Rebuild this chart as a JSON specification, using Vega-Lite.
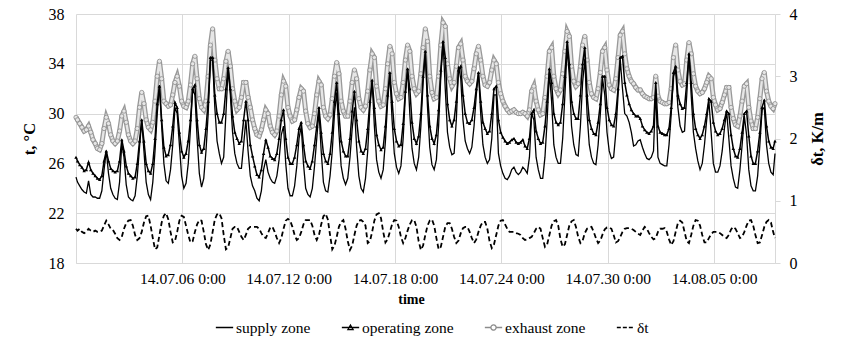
{
"$schema":"https://vega.github.io/schema/vega-lite/v6.json",
"width":699,"height":249,
"autosize":{"type":"none"},
"padding":{"left":76,"top":14,"right":72,"bottom":82},
"config":{"font":"'Times New Roman', 'Liberation Serif', serif","view":{"stroke":null},"axis":{"labelFont":"'Times New Roman', 'Liberation Serif', serif","titleFont":"'Times New Roman', 'Liberation Serif', serif","labelColor":"#000","titleColor":"#000","gridColor":"#d9d9d9","domainColor":"#d9d9d9"},"legend":{"labelFont":"'Times New Roman', 'Liberation Serif', serif","labelColor":"#000"}},
"data":{"values":[
{"t":"2014-06-30T00:00","s":24.9,"o":26.5,"e":29.7,"d":0.55},
{"t":"2014-06-30T02:00","s":24.5,"o":26.2,"e":29.5,"d":0.52},
{"t":"2014-06-30T05:00","s":24.2,"o":25.9,"e":29.2,"d":0.55},
{"t":"2014-06-30T08:00","s":23.9,"o":25.7,"e":28.9,"d":0.5},
{"t":"2014-06-30T11:00","s":23.7,"o":25.4,"e":28.6,"d":0.48},
{"t":"2014-06-30T14:00","s":23.6,"o":25.5,"e":28.7,"d":0.5},
{"t":"2014-06-30T17:00","s":24.6,"o":26.1,"e":29.0,"d":0.55},
{"t":"2014-06-30T20:00","s":23.5,"o":25.5,"e":28.5,"d":0.52},
{"t":"2014-06-30T23:00","s":23.3,"o":25.2,"e":27.9,"d":0.5},
{"t":"2014-07-01T02:00","s":23.3,"o":25.0,"e":27.6,"d":0.52},
{"t":"2014-07-01T05:00","s":23.2,"o":24.8,"e":27.2,"d":0.5},
{"t":"2014-07-01T08:00","s":23.2,"o":24.7,"e":27.1,"d":0.5},
{"t":"2014-07-01T11:00","s":23.8,"o":25.0,"e":27.6,"d":0.52},
{"t":"2014-07-01T14:00","s":25.5,"o":26.2,"e":28.8,"d":0.6},
{"t":"2014-07-01T17:00","s":27.0,"o":27.0,"e":29.7,"d":0.68},
{"t":"2014-07-01T20:00","s":25.2,"o":26.2,"e":29.2,"d":0.62},
{"t":"2014-07-01T23:00","s":24.0,"o":25.6,"e":28.3,"d":0.55},
{"t":"2014-07-02T02:00","s":23.5,"o":25.4,"e":27.8,"d":0.53},
{"t":"2014-07-02T05:00","s":23.2,"o":25.3,"e":27.6,"d":0.47},
{"t":"2014-07-02T08:00","s":23.1,"o":25.4,"e":27.8,"d":0.4},
{"t":"2014-07-02T11:00","s":24.5,"o":26.2,"e":28.6,"d":0.37},
{"t":"2014-07-02T14:00","s":27.6,"o":27.9,"e":29.8,"d":0.42},
{"t":"2014-07-02T17:00","s":26.5,"o":27.0,"e":30.2,"d":0.55},
{"t":"2014-07-02T20:00","s":24.3,"o":25.8,"e":29.3,"d":0.64},
{"t":"2014-07-02T23:00","s":23.3,"o":25.2,"e":28.3,"d":0.68},
{"t":"2014-07-03T02:00","s":23.1,"o":25.0,"e":27.8,"d":0.69},
{"t":"2014-07-03T05:00","s":23.0,"o":24.8,"e":27.6,"d":0.6},
{"t":"2014-07-03T08:00","s":23.4,"o":24.9,"e":27.8,"d":0.45},
{"t":"2014-07-03T11:00","s":25.0,"o":26.0,"e":28.8,"d":0.37},
{"t":"2014-07-03T14:00","s":27.3,"o":27.8,"e":30.5,"d":0.4},
{"t":"2014-07-03T17:00","s":29.4,"o":29.5,"e":31.7,"d":0.5},
{"t":"2014-07-03T20:00","s":27.0,"o":27.8,"e":30.8,"d":0.65},
{"t":"2014-07-03T23:00","s":24.5,"o":26.0,"e":29.5,"d":0.75},
{"t":"2014-07-04T02:00","s":23.5,"o":25.4,"e":28.9,"d":0.76},
{"t":"2014-07-04T05:00","s":23.1,"o":25.2,"e":28.7,"d":0.6},
{"t":"2014-07-04T08:00","s":24.5,"o":26.0,"e":29.3,"d":0.4},
{"t":"2014-07-04T11:00","s":27.0,"o":28.0,"e":31.0,"d":0.22},
{"t":"2014-07-04T14:00","s":30.0,"o":30.8,"e":33.0,"d":0.25},
{"t":"2014-07-04T17:00","s":32.3,"o":32.2,"e":34.2,"d":0.45},
{"t":"2014-07-04T20:00","s":29.0,"o":29.5,"e":32.8,"d":0.65},
{"t":"2014-07-04T23:00","s":26.0,"o":27.3,"e":31.0,"d":0.76},
{"t":"2014-07-05T02:00","s":24.6,"o":26.6,"e":30.8,"d":0.8},
{"t":"2014-07-05T05:00","s":24.4,"o":26.7,"e":30.6,"d":0.7},
{"t":"2014-07-05T08:00","s":25.5,"o":27.5,"e":30.7,"d":0.5},
{"t":"2014-07-05T11:00","s":27.5,"o":29.0,"e":31.5,"d":0.33},
{"t":"2014-07-05T14:00","s":30.5,"o":30.9,"e":32.5,"d":0.35},
{"t":"2014-07-05T17:00","s":30.0,"o":30.5,"e":33.0,"d":0.5},
{"t":"2014-07-05T20:00","s":27.5,"o":28.5,"e":32.2,"d":0.68},
{"t":"2014-07-05T23:00","s":25.0,"o":27.0,"e":31.0,"d":0.76},
{"t":"2014-07-06T02:00","s":24.0,"o":26.5,"e":30.6,"d":0.74},
{"t":"2014-07-06T05:00","s":24.4,"o":26.8,"e":30.5,"d":0.6},
{"t":"2014-07-06T08:00","s":26.0,"o":27.8,"e":31.0,"d":0.45},
{"t":"2014-07-06T11:00","s":28.8,"o":29.5,"e":32.3,"d":0.33},
{"t":"2014-07-06T14:00","s":32.0,"o":32.0,"e":34.0,"d":0.35},
{"t":"2014-07-06T17:00","s":31.5,"o":32.3,"e":34.6,"d":0.5},
{"t":"2014-07-06T20:00","s":28.0,"o":29.5,"e":32.8,"d":0.62},
{"t":"2014-07-06T23:00","s":25.2,"o":27.5,"e":31.2,"d":0.69},
{"t":"2014-07-07T02:00","s":24.1,"o":26.9,"e":30.5,"d":0.68},
{"t":"2014-07-07T05:00","s":24.8,"o":27.2,"e":30.3,"d":0.5},
{"t":"2014-07-07T08:00","s":27.0,"o":28.8,"e":31.0,"d":0.3},
{"t":"2014-07-07T11:00","s":30.0,"o":31.0,"e":33.0,"d":0.21},
{"t":"2014-07-07T14:00","s":34.3,"o":34.5,"e":35.5,"d":0.3},
{"t":"2014-07-07T17:00","s":34.3,"o":34.5,"e":36.8,"d":0.5},
{"t":"2014-07-07T20:00","s":30.5,"o":31.5,"e":34.3,"d":0.7},
{"t":"2014-07-07T23:00","s":27.8,"o":30.0,"e":32.8,"d":0.78},
{"t":"2014-07-08T02:00","s":26.8,"o":29.3,"e":32.0,"d":0.8},
{"t":"2014-07-08T05:00","s":26.0,"o":29.3,"e":32.0,"d":0.72},
{"t":"2014-07-08T08:00","s":26.5,"o":30.0,"e":32.8,"d":0.45},
{"t":"2014-07-08T11:00","s":30.0,"o":32.0,"e":34.2,"d":0.22},
{"t":"2014-07-08T14:00","s":33.6,"o":33.7,"e":35.0,"d":0.25},
{"t":"2014-07-08T17:00","s":31.5,"o":32.0,"e":33.8,"d":0.4},
{"t":"2014-07-08T20:00","s":28.5,"o":29.8,"e":32.0,"d":0.55},
{"t":"2014-07-08T23:00","s":26.8,"o":28.5,"e":31.0,"d":0.58},
{"t":"2014-07-09T02:00","s":26.0,"o":28.0,"e":30.3,"d":0.58},
{"t":"2014-07-09T05:00","s":25.6,"o":27.6,"e":30.5,"d":0.5},
{"t":"2014-07-09T08:00","s":25.6,"o":27.8,"e":31.3,"d":0.42},
{"t":"2014-07-09T11:00","s":27.5,"o":29.5,"e":32.5,"d":0.37},
{"t":"2014-07-09T14:00","s":29.5,"o":31.0,"e":32.5,"d":0.45},
{"t":"2014-07-09T17:00","s":27.0,"o":29.5,"e":31.3,"d":0.55},
{"t":"2014-07-09T20:00","s":25.0,"o":27.5,"e":30.5,"d":0.58},
{"t":"2014-07-09T23:00","s":24.2,"o":26.6,"e":29.5,"d":0.58},
{"t":"2014-07-10T02:00","s":23.8,"o":25.8,"e":28.8,"d":0.58},
{"t":"2014-07-10T05:00","s":23.2,"o":25.1,"e":28.3,"d":0.58},
{"t":"2014-07-10T08:00","s":23.0,"o":24.9,"e":28.2,"d":0.55},
{"t":"2014-07-10T11:00","s":23.8,"o":25.5,"e":28.7,"d":0.48},
{"t":"2014-07-10T14:00","s":25.5,"o":26.8,"e":29.5,"d":0.42},
{"t":"2014-07-10T17:00","s":26.3,"o":27.9,"e":30.3,"d":0.4},
{"t":"2014-07-10T20:00","s":25.3,"o":27.3,"e":30.0,"d":0.48},
{"t":"2014-07-10T23:00","s":24.8,"o":26.6,"e":29.0,"d":0.57},
{"t":"2014-07-11T02:00","s":24.5,"o":26.4,"e":28.5,"d":0.58},
{"t":"2014-07-11T05:00","s":24.4,"o":26.3,"e":28.3,"d":0.5},
{"t":"2014-07-11T08:00","s":25.0,"o":26.8,"e":28.6,"d":0.4},
{"t":"2014-07-11T11:00","s":26.3,"o":28.0,"e":29.8,"d":0.32},
{"t":"2014-07-11T14:00","s":28.3,"o":29.5,"e":31.5,"d":0.4},
{"t":"2014-07-11T17:00","s":29.0,"o":30.3,"e":32.6,"d":0.55},
{"t":"2014-07-11T20:00","s":26.0,"o":28.0,"e":32.2,"d":0.68},
{"t":"2014-07-11T23:00","s":24.0,"o":26.5,"e":30.5,"d":0.71},
{"t":"2014-07-12T02:00","s":23.4,"o":26.0,"e":29.8,"d":0.68},
{"t":"2014-07-12T05:00","s":23.4,"o":26.0,"e":29.4,"d":0.58},
{"t":"2014-07-12T08:00","s":24.2,"o":26.5,"e":29.5,"d":0.45},
{"t":"2014-07-12T11:00","s":25.8,"o":27.5,"e":30.3,"d":0.37},
{"t":"2014-07-12T14:00","s":28.0,"o":28.8,"e":31.3,"d":0.4},
{"t":"2014-07-12T17:00","s":29.0,"o":29.3,"e":32.0,"d":0.5},
{"t":"2014-07-12T20:00","s":26.0,"o":27.5,"e":31.8,"d":0.62},
{"t":"2014-07-12T23:00","s":24.0,"o":26.2,"e":30.2,"d":0.69},
{"t":"2014-07-13T02:00","s":23.5,"o":25.8,"e":29.2,"d":0.69},
{"t":"2014-07-13T05:00","s":23.3,"o":25.6,"e":28.9,"d":0.69},
{"t":"2014-07-13T08:00","s":24.0,"o":26.2,"e":29.0,"d":0.6},
{"t":"2014-07-13T11:00","s":25.8,"o":27.5,"e":30.0,"d":0.45},
{"t":"2014-07-13T14:00","s":28.0,"o":29.0,"e":31.5,"d":0.37},
{"t":"2014-07-13T17:00","s":30.2,"o":30.5,"e":32.6,"d":0.45},
{"t":"2014-07-13T20:00","s":27.0,"o":28.5,"e":32.3,"d":0.62},
{"t":"2014-07-13T23:00","s":24.5,"o":26.8,"e":30.5,"d":0.75},
{"t":"2014-07-14T02:00","s":23.8,"o":26.2,"e":29.8,"d":0.79},
{"t":"2014-07-14T05:00","s":23.7,"o":26.0,"e":29.6,"d":0.7},
{"t":"2014-07-14T08:00","s":25.0,"o":26.8,"e":29.9,"d":0.45},
{"t":"2014-07-14T11:00","s":27.0,"o":28.5,"e":31.2,"d":0.22},
{"t":"2014-07-14T14:00","s":30.0,"o":31.0,"e":33.0,"d":0.28},
{"t":"2014-07-14T17:00","s":31.7,"o":32.5,"e":34.1,"d":0.42},
{"t":"2014-07-14T20:00","s":28.5,"o":30.0,"e":33.2,"d":0.58},
{"t":"2014-07-14T23:00","s":25.8,"o":27.8,"e":31.0,"d":0.66},
{"t":"2014-07-15T02:00","s":24.8,"o":27.0,"e":30.2,"d":0.69},
{"t":"2014-07-15T05:00","s":24.3,"o":26.6,"e":29.8,"d":0.55},
{"t":"2014-07-15T08:00","s":24.8,"o":26.6,"e":29.8,"d":0.35},
{"t":"2014-07-15T11:00","s":26.5,"o":28.0,"e":31.0,"d":0.21},
{"t":"2014-07-15T14:00","s":28.8,"o":30.2,"e":32.5,"d":0.28},
{"t":"2014-07-15T17:00","s":30.5,"o":31.8,"e":33.5,"d":0.45},
{"t":"2014-07-15T20:00","s":27.3,"o":29.5,"e":32.8,"d":0.6},
{"t":"2014-07-15T23:00","s":25.0,"o":27.8,"e":31.2,"d":0.68},
{"t":"2014-07-16T02:00","s":24.0,"o":27.0,"e":30.5,"d":0.69},
{"t":"2014-07-16T05:00","s":23.7,"o":26.8,"e":30.3,"d":0.66},
{"t":"2014-07-16T08:00","s":24.8,"o":27.2,"e":30.6,"d":0.6},
{"t":"2014-07-16T11:00","s":27.0,"o":28.8,"e":31.8,"d":0.32},
{"t":"2014-07-16T14:00","s":30.5,"o":31.0,"e":33.5,"d":0.35},
{"t":"2014-07-16T17:00","s":32.6,"o":32.7,"e":34.8,"d":0.5},
{"t":"2014-07-16T20:00","s":29.0,"o":30.5,"e":34.5,"d":0.68},
{"t":"2014-07-16T23:00","s":26.3,"o":28.3,"e":32.2,"d":0.78},
{"t":"2014-07-17T02:00","s":25.3,"o":27.5,"e":31.0,"d":0.8},
{"t":"2014-07-17T05:00","s":24.8,"o":27.1,"e":30.6,"d":0.72},
{"t":"2014-07-17T08:00","s":25.5,"o":27.3,"e":30.7,"d":0.5},
{"t":"2014-07-17T11:00","s":27.8,"o":29.0,"e":32.0,"d":0.33},
{"t":"2014-07-17T14:00","s":31.0,"o":31.5,"e":34.0,"d":0.38},
{"t":"2014-07-17T17:00","s":33.2,"o":33.3,"e":35.4,"d":0.5},
{"t":"2014-07-17T20:00","s":29.5,"o":31.0,"e":34.8,"d":0.62},
{"t":"2014-07-17T23:00","s":26.8,"o":28.8,"e":32.5,"d":0.69},
{"t":"2014-07-18T02:00","s":25.7,"o":27.8,"e":31.6,"d":0.68},
{"t":"2014-07-18T05:00","s":25.2,"o":27.4,"e":31.2,"d":0.58},
{"t":"2014-07-18T08:00","s":25.8,"o":27.5,"e":31.3,"d":0.42},
{"t":"2014-07-18T11:00","s":28.0,"o":29.2,"e":32.5,"d":0.32},
{"t":"2014-07-18T14:00","s":31.5,"o":31.8,"e":34.3,"d":0.4},
{"t":"2014-07-18T17:00","s":33.6,"o":33.6,"e":35.5,"d":0.52},
{"t":"2014-07-18T20:00","s":30.0,"o":32.0,"e":35.0,"d":0.62},
{"t":"2014-07-18T23:00","s":27.2,"o":29.3,"e":33.0,"d":0.69},
{"t":"2014-07-19T02:00","s":26.0,"o":28.0,"e":32.0,"d":0.69},
{"t":"2014-07-19T05:00","s":25.5,"o":27.6,"e":31.6,"d":0.58},
{"t":"2014-07-19T08:00","s":26.5,"o":28.2,"e":31.8,"d":0.35},
{"t":"2014-07-19T11:00","s":29.0,"o":30.0,"e":33.2,"d":0.21},
{"t":"2014-07-19T14:00","s":32.5,"o":33.0,"e":35.3,"d":0.28},
{"t":"2014-07-19T17:00","s":34.8,"o":35.0,"e":36.8,"d":0.45},
{"t":"2014-07-19T20:00","s":30.5,"o":31.5,"e":35.8,"d":0.6},
{"t":"2014-07-19T23:00","s":27.3,"o":29.0,"e":33.0,"d":0.68},
{"t":"2014-07-20T02:00","s":25.9,"o":28.0,"e":31.7,"d":0.7},
{"t":"2014-07-20T05:00","s":25.5,"o":27.6,"e":31.2,"d":0.6},
{"t":"2014-07-20T08:00","s":26.3,"o":28.3,"e":31.3,"d":0.4},
{"t":"2014-07-20T11:00","s":29.0,"o":30.3,"e":33.0,"d":0.22},
{"t":"2014-07-20T14:00","s":33.0,"o":33.5,"e":35.5,"d":0.26},
{"t":"2014-07-20T17:00","s":35.8,"o":35.8,"e":37.3,"d":0.42},
{"t":"2014-07-20T20:00","s":32.0,"o":34.5,"e":37.0,"d":0.58},
{"t":"2014-07-20T23:00","s":28.5,"o":30.8,"e":34.0,"d":0.64},
{"t":"2014-07-21T02:00","s":27.3,"o":29.5,"e":32.8,"d":0.64},
{"t":"2014-07-21T05:00","s":26.7,"o":29.0,"e":32.2,"d":0.55},
{"t":"2014-07-21T08:00","s":26.8,"o":29.5,"e":32.5,"d":0.42},
{"t":"2014-07-21T11:00","s":29.5,"o":31.0,"e":33.8,"d":0.32},
{"t":"2014-07-21T14:00","s":33.8,"o":33.5,"e":35.3,"d":0.36},
{"t":"2014-07-21T17:00","s":32.8,"o":33.8,"e":35.6,"d":0.48},
{"t":"2014-07-21T20:00","s":29.5,"o":31.5,"e":34.3,"d":0.56},
{"t":"2014-07-21T23:00","s":27.8,"o":30.0,"e":33.0,"d":0.58},
{"t":"2014-07-22T02:00","s":27.2,"o":29.3,"e":32.6,"d":0.58},
{"t":"2014-07-22T05:00","s":26.8,"o":29.2,"e":32.4,"d":0.5},
{"t":"2014-07-22T08:00","s":27.3,"o":29.5,"e":32.6,"d":0.4},
{"t":"2014-07-22T11:00","s":29.0,"o":30.5,"e":33.6,"d":0.32},
{"t":"2014-07-22T14:00","s":31.5,"o":32.0,"e":34.8,"d":0.38},
{"t":"2014-07-22T17:00","s":33.3,"o":33.3,"e":35.4,"d":0.5},
{"t":"2014-07-22T20:00","s":30.0,"o":31.0,"e":34.3,"d":0.6},
{"t":"2014-07-22T23:00","s":27.5,"o":29.3,"e":33.0,"d":0.66},
{"t":"2014-07-23T02:00","s":26.5,"o":28.8,"e":32.3,"d":0.66},
{"t":"2014-07-23T05:00","s":26.0,"o":28.4,"e":32.2,"d":0.55},
{"t":"2014-07-23T08:00","s":26.3,"o":28.6,"e":32.5,"d":0.35},
{"t":"2014-07-23T11:00","s":28.0,"o":30.0,"e":33.5,"d":0.24},
{"t":"2014-07-23T14:00","s":31.5,"o":32.0,"e":34.3,"d":0.3},
{"t":"2014-07-23T17:00","s":31.5,"o":32.2,"e":34.0,"d":0.45},
{"t":"2014-07-23T20:00","s":26.8,"o":29.5,"e":32.5,"d":0.6},
{"t":"2014-07-23T23:00","s":25.8,"o":28.5,"e":31.6,"d":0.68},
{"t":"2014-07-24T02:00","s":25.2,"o":28.1,"e":31.0,"d":0.69},
{"t":"2014-07-24T05:00","s":24.8,"o":27.8,"e":30.6,"d":0.62},
{"t":"2014-07-24T08:00","s":24.7,"o":27.6,"e":30.3,"d":0.55},
{"t":"2014-07-24T11:00","s":25.0,"o":27.7,"e":30.1,"d":0.5},
{"t":"2014-07-24T14:00","s":25.5,"o":27.9,"e":30.2,"d":0.5},
{"t":"2014-07-24T17:00","s":25.7,"o":28.0,"e":30.3,"d":0.5},
{"t":"2014-07-24T20:00","s":25.3,"o":27.7,"e":30.1,"d":0.48},
{"t":"2014-07-24T23:00","s":25.1,"o":27.6,"e":30.0,"d":0.47},
{"t":"2014-07-25T02:00","s":25.3,"o":27.7,"e":30.0,"d":0.45},
{"t":"2014-07-25T05:00","s":25.7,"o":27.9,"e":30.1,"d":0.4},
{"t":"2014-07-25T08:00","s":25.5,"o":27.4,"e":30.0,"d":0.37},
{"t":"2014-07-25T11:00","s":25.2,"o":27.2,"e":29.8,"d":0.38},
{"t":"2014-07-25T14:00","s":26.5,"o":28.0,"e":30.3,"d":0.4},
{"t":"2014-07-25T17:00","s":30.0,"o":30.0,"e":31.8,"d":0.42},
{"t":"2014-07-25T20:00","s":29.5,"o":30.3,"e":32.2,"d":0.48},
{"t":"2014-07-25T23:00","s":26.5,"o":28.6,"e":31.0,"d":0.55},
{"t":"2014-07-26T02:00","s":25.5,"o":28.0,"e":30.3,"d":0.58},
{"t":"2014-07-26T05:00","s":24.8,"o":27.6,"e":29.9,"d":0.55},
{"t":"2014-07-26T08:00","s":24.8,"o":27.7,"e":30.0,"d":0.4},
{"t":"2014-07-26T11:00","s":26.5,"o":29.0,"e":31.3,"d":0.26},
{"t":"2014-07-26T14:00","s":29.5,"o":31.0,"e":33.0,"d":0.3},
{"t":"2014-07-26T17:00","s":33.3,"o":33.6,"e":35.0,"d":0.45},
{"t":"2014-07-26T20:00","s":31.0,"o":32.5,"e":35.3,"d":0.6},
{"t":"2014-07-26T23:00","s":27.5,"o":30.0,"e":33.0,"d":0.67},
{"t":"2014-07-27T02:00","s":26.5,"o":29.3,"e":32.0,"d":0.69},
{"t":"2014-07-27T05:00","s":26.0,"o":29.1,"e":31.6,"d":0.6},
{"t":"2014-07-27T08:00","s":26.0,"o":29.3,"e":31.9,"d":0.38},
{"t":"2014-07-27T11:00","s":28.0,"o":30.8,"e":33.2,"d":0.26},
{"t":"2014-07-27T14:00","s":31.5,"o":33.0,"e":35.0,"d":0.3},
{"t":"2014-07-27T17:00","s":35.3,"o":35.8,"e":36.6,"d":0.45},
{"t":"2014-07-27T20:00","s":33.0,"o":34.0,"e":36.2,"d":0.6},
{"t":"2014-07-27T23:00","s":29.0,"o":31.0,"e":33.8,"d":0.67},
{"t":"2014-07-28T02:00","s":27.5,"o":30.0,"e":32.6,"d":0.69},
{"t":"2014-07-28T05:00","s":26.7,"o":29.6,"e":32.2,"d":0.58},
{"t":"2014-07-28T08:00","s":26.6,"o":29.6,"e":32.4,"d":0.42},
{"t":"2014-07-28T11:00","s":29.0,"o":31.5,"e":33.8,"d":0.32},
{"t":"2014-07-28T14:00","s":32.5,"o":34.0,"e":35.5,"d":0.36},
{"t":"2014-07-28T17:00","s":34.4,"o":35.3,"e":36.2,"d":0.48},
{"t":"2014-07-28T20:00","s":30.0,"o":31.5,"e":34.3,"d":0.55},
{"t":"2014-07-28T23:00","s":27.5,"o":29.5,"e":32.5,"d":0.57},
{"t":"2014-07-29T02:00","s":26.5,"o":28.8,"e":31.6,"d":0.58},
{"t":"2014-07-29T05:00","s":26.0,"o":28.4,"e":31.3,"d":0.5},
{"t":"2014-07-29T08:00","s":25.9,"o":28.3,"e":31.2,"d":0.4},
{"t":"2014-07-29T11:00","s":27.5,"o":29.3,"e":32.0,"d":0.32},
{"t":"2014-07-29T14:00","s":30.0,"o":30.8,"e":33.3,"d":0.36},
{"t":"2014-07-29T17:00","s":32.8,"o":33.0,"e":35.0,"d":0.46},
{"t":"2014-07-29T20:00","s":31.5,"o":33.0,"e":35.3,"d":0.54},
{"t":"2014-07-29T23:00","s":28.5,"o":30.5,"e":33.5,"d":0.57},
{"t":"2014-07-30T02:00","s":27.0,"o":29.5,"e":32.3,"d":0.57},
{"t":"2014-07-30T05:00","s":26.4,"o":29.1,"e":32.0,"d":0.55},
{"t":"2014-07-30T08:00","s":26.5,"o":29.0,"e":31.9,"d":0.45},
{"t":"2014-07-30T11:00","s":28.5,"o":30.0,"e":32.8,"d":0.33},
{"t":"2014-07-30T14:00","s":31.5,"o":32.0,"e":34.5,"d":0.35},
{"t":"2014-07-30T17:00","s":34.3,"o":34.5,"e":36.3,"d":0.42},
{"t":"2014-07-30T20:00","s":32.0,"o":34.6,"e":36.6,"d":0.5},
{"t":"2014-07-30T23:00","s":30.0,"o":32.5,"e":34.8,"d":0.55},
{"t":"2014-07-31T02:00","s":29.8,"o":31.5,"e":33.6,"d":0.56},
{"t":"2014-07-31T05:00","s":29.3,"o":30.8,"e":33.0,"d":0.56},
{"t":"2014-07-31T08:00","s":28.5,"o":30.3,"e":32.6,"d":0.55},
{"t":"2014-07-31T11:00","s":27.4,"o":30.0,"e":32.4,"d":0.53},
{"t":"2014-07-31T14:00","s":27.5,"o":29.8,"e":32.1,"d":0.5},
{"t":"2014-07-31T17:00","s":27.8,"o":29.8,"e":31.9,"d":0.47},
{"t":"2014-07-31T20:00","s":27.9,"o":29.6,"e":31.9,"d":0.45},
{"t":"2014-07-31T23:00","s":27.3,"o":29.0,"e":31.6,"d":0.52},
{"t":"2014-08-01T02:00","s":26.8,"o":28.7,"e":31.4,"d":0.58},
{"t":"2014-08-01T05:00","s":26.4,"o":28.5,"e":31.3,"d":0.55},
{"t":"2014-08-01T08:00","s":26.3,"o":28.4,"e":31.2,"d":0.48},
{"t":"2014-08-01T11:00","s":26.5,"o":28.6,"e":31.2,"d":0.42},
{"t":"2014-08-01T14:00","s":27.0,"o":29.0,"e":31.3,"d":0.38},
{"t":"2014-08-01T17:00","s":32.0,"o":32.5,"e":33.0,"d":0.4},
{"t":"2014-08-01T20:00","s":26.5,"o":29.0,"e":31.4,"d":0.5},
{"t":"2014-08-01T23:00","s":26.0,"o":28.5,"e":31.0,"d":0.55},
{"t":"2014-08-02T02:00","s":25.9,"o":28.4,"e":30.9,"d":0.55},
{"t":"2014-08-02T05:00","s":25.8,"o":28.3,"e":30.8,"d":0.56},
{"t":"2014-08-02T08:00","s":25.8,"o":28.3,"e":30.8,"d":0.5},
{"t":"2014-08-02T11:00","s":27.5,"o":28.8,"e":30.9,"d":0.38},
{"t":"2014-08-02T14:00","s":30.0,"o":30.5,"e":32.0,"d":0.29},
{"t":"2014-08-02T17:00","s":33.0,"o":33.3,"e":34.5,"d":0.35},
{"t":"2014-08-02T20:00","s":33.5,"o":33.8,"e":35.5,"d":0.5},
{"t":"2014-08-02T23:00","s":30.5,"o":31.5,"e":33.5,"d":0.64},
{"t":"2014-08-03T02:00","s":29.0,"o":30.8,"e":32.6,"d":0.68},
{"t":"2014-08-03T05:00","s":28.5,"o":30.4,"e":32.3,"d":0.65},
{"t":"2014-08-03T08:00","s":28.6,"o":30.5,"e":32.4,"d":0.5},
{"t":"2014-08-03T11:00","s":31.5,"o":32.5,"e":34.3,"d":0.35},
{"t":"2014-08-03T14:00","s":34.8,"o":34.8,"e":35.7,"d":0.32},
{"t":"2014-08-03T17:00","s":31.5,"o":32.5,"e":34.8,"d":0.45},
{"t":"2014-08-03T20:00","s":28.5,"o":30.0,"e":33.2,"d":0.6},
{"t":"2014-08-03T23:00","s":27.2,"o":28.8,"e":32.2,"d":0.69},
{"t":"2014-08-04T02:00","s":26.2,"o":28.3,"e":31.8,"d":0.68},
{"t":"2014-08-04T05:00","s":25.5,"o":28.0,"e":31.6,"d":0.6},
{"t":"2014-08-04T08:00","s":26.0,"o":28.3,"e":31.7,"d":0.45},
{"t":"2014-08-04T11:00","s":27.5,"o":29.0,"e":32.0,"d":0.33},
{"t":"2014-08-04T14:00","s":29.5,"o":30.0,"e":32.5,"d":0.33},
{"t":"2014-08-04T17:00","s":31.0,"o":31.2,"e":33.0,"d":0.4},
{"t":"2014-08-04T20:00","s":28.5,"o":31.0,"e":32.8,"d":0.46},
{"t":"2014-08-04T23:00","s":26.0,"o":29.3,"e":31.3,"d":0.5},
{"t":"2014-08-05T02:00","s":25.3,"o":28.6,"e":30.7,"d":0.5},
{"t":"2014-08-05T05:00","s":25.3,"o":28.3,"e":30.3,"d":0.5},
{"t":"2014-08-05T08:00","s":25.8,"o":28.4,"e":30.4,"d":0.48},
{"t":"2014-08-05T11:00","s":27.0,"o":28.8,"e":30.9,"d":0.45},
{"t":"2014-08-05T14:00","s":28.8,"o":29.5,"e":31.5,"d":0.42},
{"t":"2014-08-05T17:00","s":30.2,"o":30.2,"e":32.1,"d":0.4},
{"t":"2014-08-05T20:00","s":28.0,"o":30.0,"e":32.1,"d":0.45},
{"t":"2014-08-05T23:00","s":25.8,"o":28.3,"e":30.5,"d":0.54},
{"t":"2014-08-06T02:00","s":24.8,"o":27.2,"e":29.6,"d":0.58},
{"t":"2014-08-06T05:00","s":24.1,"o":26.6,"e":29.1,"d":0.55},
{"t":"2014-08-06T08:00","s":24.0,"o":26.5,"e":29.0,"d":0.48},
{"t":"2014-08-06T11:00","s":25.5,"o":27.2,"e":29.8,"d":0.4},
{"t":"2014-08-06T14:00","s":27.5,"o":28.5,"e":31.0,"d":0.42},
{"t":"2014-08-06T17:00","s":29.8,"o":30.0,"e":32.2,"d":0.5},
{"t":"2014-08-06T20:00","s":28.3,"o":30.2,"e":32.4,"d":0.6},
{"t":"2014-08-06T23:00","s":25.5,"o":28.2,"e":30.5,"d":0.68},
{"t":"2014-08-07T02:00","s":24.2,"o":26.6,"e":29.4,"d":0.69},
{"t":"2014-08-07T05:00","s":23.8,"o":26.0,"e":28.8,"d":0.6},
{"t":"2014-08-07T08:00","s":23.8,"o":26.0,"e":28.8,"d":0.45},
{"t":"2014-08-07T11:00","s":25.0,"o":27.0,"e":29.7,"d":0.32},
{"t":"2014-08-07T14:00","s":27.5,"o":28.5,"e":31.2,"d":0.33},
{"t":"2014-08-07T17:00","s":30.3,"o":30.5,"e":32.8,"d":0.45},
{"t":"2014-08-07T20:00","s":30.5,"o":31.1,"e":33.3,"d":0.58},
{"t":"2014-08-07T23:00","s":27.5,"o":29.0,"e":31.8,"d":0.66},
{"t":"2014-08-08T02:00","s":26.0,"o":27.8,"e":31.0,"d":0.69},
{"t":"2014-08-08T05:00","s":25.3,"o":27.3,"e":30.6,"d":0.65},
{"t":"2014-08-08T08:00","s":25.1,"o":27.2,"e":30.4,"d":0.5},
{"t":"2014-08-08T10:30","s":26.8,"o":27.8,"e":30.8,"d":0.4}
]},
"encoding":{"x":{"field":"t","type":"temporal",
  "scale":{"domain":[{"year":2014,"month":6,"date":30},{"year":2014,"month":8,"date":8,"hours":10,"minutes":30}]},
  "axis":{"values":[{"year":2014,"month":7,"date":6},{"year":2014,"month":7,"date":12},{"year":2014,"month":7,"date":18},{"year":2014,"month":7,"date":24},{"year":2014,"month":7,"date":30},{"year":2014,"month":8,"date":5}],
    "format":"%y.%m.%d %-H:%M","labelFontSize":15.5,"labelPadding":8,"ticks":false,"grid":true,"labelFlush":false,
    "title":"time","titleFontSize":14,"titleFontWeight":"bold","titlePadding":6,"titleX":335}}},
"layer":[
 {"layer":[
  {"mark":{"type":"line","color":"#999999","strokeWidth":5},
   "encoding":{"y":{"field":"e","type":"quantitative","title":"t, °C","scale":{"domain":[18,38]},
     "axis":{"values":[18,22,26,30,34,38],"ticks":false,"grid":true,"labelPadding":12,"labelFontSize":16,"titleFontSize":16.5,"titleFontWeight":"bold","titlePadding":11}}}},
  {"mark":{"type":"line","color":"#e6e6e6","strokeWidth":2.4},
   "encoding":{"y":{"field":"e","type":"quantitative","title":"t, °C",
     "axis":{"values":[18,22,26,30,34,38],"ticks":false,"grid":true,"labelPadding":12,"labelFontSize":16,"titleFontSize":16.5,"titleFontWeight":"bold","titlePadding":11}}}},
  {"mark":{"type":"point","shape":"circle","size":18,"filled":true,"fill":"#e6e6e6","stroke":"#8c8c8c","strokeWidth":0.8,"opacity":1},
   "encoding":{"y":{"field":"e","type":"quantitative","title":"t, °C",
     "axis":{"values":[18,22,26,30,34,38],"ticks":false,"grid":true,"labelPadding":12,"labelFontSize":16,"titleFontSize":16.5,"titleFontWeight":"bold","titlePadding":11}}}},
  {"mark":{"type":"line","color":"#000","strokeWidth":1.5},
   "encoding":{"y":{"field":"o","type":"quantitative","title":"t, °C",
     "axis":{"values":[18,22,26,30,34,38],"ticks":false,"grid":true,"labelPadding":12,"labelFontSize":16,"titleFontSize":16.5,"titleFontWeight":"bold","titlePadding":11}}}},
  {"mark":{"type":"point","shape":"triangle-up","size":12,"filled":true,"color":"#000","opacity":1},
   "encoding":{"y":{"field":"o","type":"quantitative","title":"t, °C",
     "axis":{"values":[18,22,26,30,34,38],"ticks":false,"grid":true,"labelPadding":12,"labelFontSize":16,"titleFontSize":16.5,"titleFontWeight":"bold","titlePadding":11}}}},
  {"mark":{"type":"line","color":"#000","strokeWidth":1.3},
   "encoding":{"y":{"field":"s","type":"quantitative","title":"t, °C",
     "axis":{"values":[18,22,26,30,34,38],"ticks":false,"grid":true,"labelPadding":12,"labelFontSize":16,"titleFontSize":16.5,"titleFontWeight":"bold","titlePadding":11}}}},
  {"data":{"values":[{"k":"s"},{"k":"o"},{"k":"e"},{"k":"d"}]},
   "mark":{"type":"point","opacity":0,"filled":true},
   "encoding":{
    "shape":{"field":"k","type":"nominal","scale":{"domain":["s","o","e","d"],"range":["M-1,0H1","M-1,0H1M-0.3,0.25L0,-0.28L0.3,0.25Z","M-1,0H-0.3M0.3,0H1M0.3,0A0.3,0.3 0 1 1 -0.3,0A0.3,0.3 0 1 1 0.3,0","M-1,0H1"]},
      "legend":{"title":null,"orient":"none","legendX":139,"legendY":304,"direction":"horizontal","symbolSize":300,"symbolStrokeWidth":1.3,"labelFontSize":15.5,"labelOffset":2,"columnPadding":28,"labelExpr":"datum.label == 's' ? 'supply zone' : datum.label == 'o' ? 'operating zone' : datum.label == 'e' ? 'exhaust zone' : 'δt'"}},
    "fill":{"field":"k","type":"nominal","scale":{"domain":["s","o","e","d"],"range":["#000","#000","#e4e4e4","#000"]},
      "legend":{"title":null,"orient":"none","legendX":139,"legendY":304,"direction":"horizontal","symbolSize":300,"symbolStrokeWidth":1.3,"labelFontSize":15.5,"labelOffset":2,"columnPadding":28,"labelExpr":"datum.label == 's' ? 'supply zone' : datum.label == 'o' ? 'operating zone' : datum.label == 'e' ? 'exhaust zone' : 'δt'"}},
    "stroke":{"field":"k","type":"nominal","scale":{"domain":["s","o","e","d"],"range":["#000","#000","#8c8c8c","#000"]},
      "legend":{"title":null,"orient":"none","legendX":139,"legendY":304,"direction":"horizontal","symbolSize":300,"symbolStrokeWidth":1.3,"labelFontSize":15.5,"labelOffset":2,"columnPadding":28,"labelExpr":"datum.label == 's' ? 'supply zone' : datum.label == 'o' ? 'operating zone' : datum.label == 'e' ? 'exhaust zone' : 'δt'"}},
    "strokeDash":{"field":"k","type":"nominal","scale":{"domain":["s","o","e","d"],"range":[[1,0],[1,0],[1,0],[4,2]]},
      "legend":{"title":null,"orient":"none","legendX":139,"legendY":304,"direction":"horizontal","symbolSize":300,"symbolStrokeWidth":1.3,"labelFontSize":15.5,"labelOffset":2,"columnPadding":28,"labelExpr":"datum.label == 's' ? 'supply zone' : datum.label == 'o' ? 'operating zone' : datum.label == 'e' ? 'exhaust zone' : 'δt'"}}
   }}
 ]},
 {"mark":{"type":"line","color":"#000","strokeWidth":1.8,"strokeDash":[5,3]},
  "encoding":{"y":{"field":"d","type":"quantitative","title":"δt, K/m","scale":{"domain":[0,4]},
    "axis":{"orient":"right","values":[0,1,2,3,4],"ticks":true,"tickColor":"#d9d9d9","tickSize":5,"grid":false,"labelPadding":9,"labelFontSize":16,"titleFontSize":16.5,"titleFontWeight":"bold","titleAngle":270,"titlePadding":28}}}}
],
"resolve":{"scale":{"y":"independent"}}
}
